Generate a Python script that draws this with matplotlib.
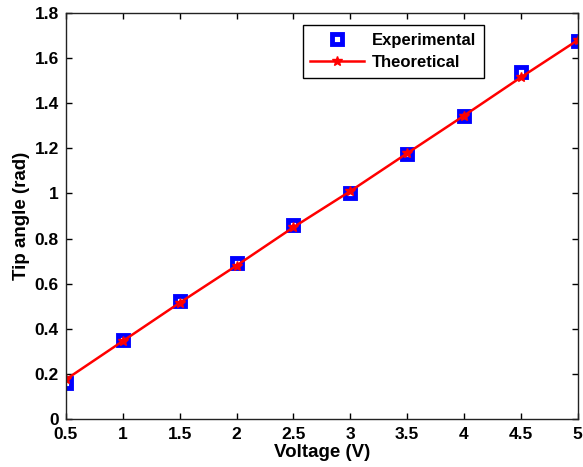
import matplotlib
matplotlib.use("Agg")
import matplotlib.pyplot as plt

plt.rcParams['font.family'] = ['Liberation Sans', 'DejaVu Sans']
plt.rcParams['font.weight'] = 'bold'

voltage = [0.5, 1.0, 1.5, 2.0, 2.5, 3.0, 3.5, 4.0, 4.5, 5.0]
experimental = [0.16, 0.35, 0.523, 0.69, 0.86, 1.0, 1.175, 1.343, 1.538, 1.675]
theoretical = [0.175, 0.345, 0.515, 0.68, 0.85, 1.01, 1.178, 1.345, 1.515, 1.68]

fig = plt.figure(figsize=(5.83, 4.67), dpi=100)
ax = fig.add_axes([0.113, 0.103, 0.878, 0.869])

ax.plot(voltage, experimental, 's', color='blue', markerfacecolor='white',
        markeredgecolor='blue', markersize=7, markeredgewidth=3.5, label='Experimental')
ax.plot(voltage, theoretical, '-', color='red', linewidth=1.8, marker='*',
        markersize=7, label='Theoretical')

ax.set_xlim(0.5, 5)
ax.set_ylim(0, 1.8)
ax.set_xticks([0.5, 1, 1.5, 2, 2.5, 3, 3.5, 4, 4.5, 5])
ax.set_xticklabels(['0.5', '1', '1.5', '2', '2.5', '3', '3.5', '4', '4.5', '5'])
ax.set_yticks([0, 0.2, 0.4, 0.6, 0.8, 1, 1.2, 1.4, 1.6, 1.8])
ax.set_yticklabels(['0', '0.2', '0.4', '0.6', '0.8', '1', '1.2', '1.4', '1.6', '1.8'])
ax.tick_params(direction='in', top=True, right=True, labelsize=12.5, length=4, width=1)
ax.tick_params(axis='x', pad=6)
ax.tick_params(axis='y', pad=5)
for lab in ax.get_xticklabels() + ax.get_yticklabels():
    lab.set_fontweight('bold')
ax.set_xlabel('Voltage (V)', fontsize=13.5, fontweight='bold', labelpad=1)
ax.set_ylabel('Tip angle (rad)', fontsize=13.5, fontweight='bold', labelpad=3)
for s in ax.spines.values():
    s.set_linewidth(1)
    s.set_color('#222222')

leg = ax.legend(loc='upper left', bbox_to_anchor=(0.463, 0.970), borderaxespad=0,
                fancybox=False, edgecolor='black', framealpha=1, fontsize=12,
                handlelength=3.2, handletextpad=0.5, borderpad=0.45, labelspacing=0.45)
leg.get_frame().set_linewidth(1)

fig.savefig('out.png', dpi=100)
